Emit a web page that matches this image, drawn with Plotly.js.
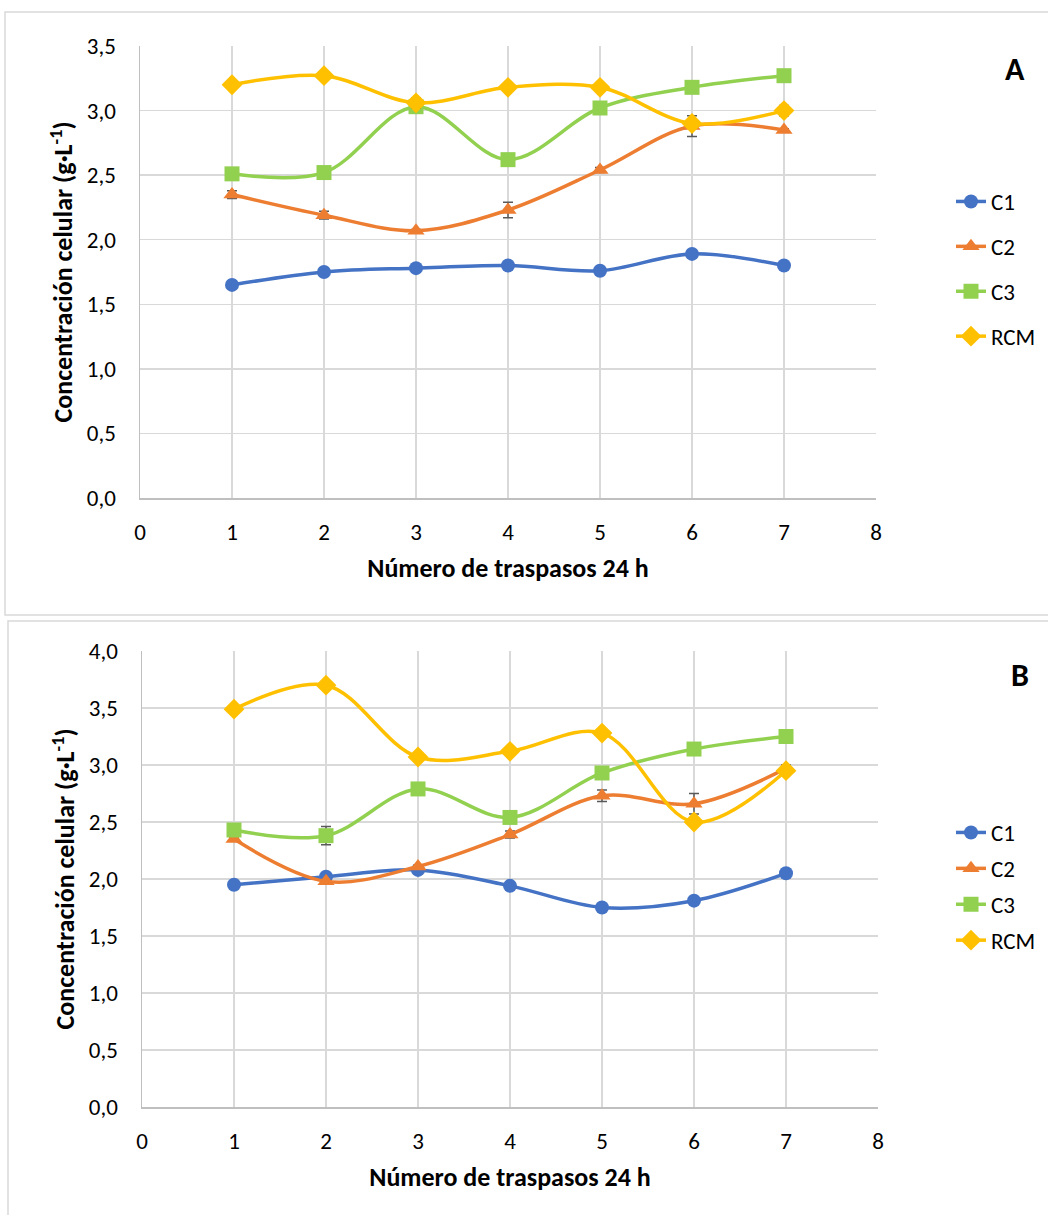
<!DOCTYPE html>
<html>
<head>
<meta charset="utf-8">
<script src="https://cdn.plot.ly/plotly-3.0.1.min.js"></script>
<style>html,body{margin:0;padding:0;background:#fff;}#chart{width:1048px;height:1215px;}</style>
</head>
<body>
<div id="chart"></div>
<script>
// Data
const passes = [1, 2, 3, 4, 5, 6, 7];
const seriesNames = ['C1', 'C2', 'C3', 'RCM'];

// Panel A
const A_C1 = [1.65, 1.75, 1.78, 1.80, 1.76, 1.89, 1.80];
const A_C2 = [2.35, 2.19, 2.07, 2.23, 2.54, 2.88, 2.85];
const A_C3 = [2.51, 2.52, 3.03, 2.62, 3.02, 3.18, 3.27];
const A_RCM = [3.20, 3.27, 3.06, 3.18, 3.18, 2.90, 3.00];
const A_C1_err = [0.01, 0.03, 0.01, 0.01, 0.01, 0.01, 0.01];
const A_C2_err = [0.03, 0.03, 0.01, 0.06, 0.02, 0.08, 0.01];
const A_C3_err = [0.01, 0.01, 0.03, 0.01, 0.01, 0.01, 0.01];
const A_RCM_err = [0.01, 0.02, 0.04, 0.01, 0.01, 0.01, 0.04];

// Panel B
const B_C1 = [1.95, 2.02, 2.08, 1.94, 1.75, 1.81, 2.05];
const B_C2 = [2.35, 1.98, 2.11, 2.39, 2.73, 2.66, 2.97];
const B_C3 = [2.43, 2.38, 2.79, 2.54, 2.93, 3.14, 3.25];
const B_RCM = [3.49, 3.70, 3.07, 3.12, 3.28, 2.50, 2.95];
const B_C1_err = [0.01, 0.01, 0.02, 0.01, 0.01, 0.01, 0.01];
const B_C2_err = [0.01, 0.01, 0.01, 0.03, 0.05, 0.09, 0.03];
const B_C3_err = [0.01, 0.08, 0.05, 0.01, 0.01, 0.01, 0.01];
const B_RCM_err = [0.03, 0.02, 0.02, 0.02, 0.01, 0.03, 0.01];

const xTickVals = [0, 1, 2, 3, 4, 5, 6, 7, 8];
const yTickValsA = [0, 0.5, 1, 1.5, 2, 2.5, 3, 3.5];
const yTickValsB = [0, 0.5, 1, 1.5, 2, 2.5, 3, 3.5, 4];

const xTitle = '<b>Número de traspasos 24 h</b>';
const yTitle = '<b>Concentración celular (g·L<sup>-1</sup>)</b>';

// Styles
const colors = ['#4472C4', '#ED7D31', '#92D050', '#FFC000'];
const symbols = ['circle', 'triangle-up', 'square', 'diamond'];
const msizes = [14, 15, 15, 16];
const FONT = 'Carlito, Calibri, Lato, "Open Sans", sans-serif';

function mk(vals, errs, i, xa, ya, leg) {
  return {
    x: passes, y: vals, type: 'scatter', mode: 'lines+markers',
    name: seriesNames[i], legend: leg, legendgroup: leg + seriesNames[i],
    xaxis: xa, yaxis: ya,
    line: {color: colors[i], width: 3.5, shape: 'spline', smoothing: 1},
    marker: {color: colors[i], symbol: symbols[i], size: msizes[i]},
    error_y: {type: 'data', array: errs, visible: true, color: '#595959', thickness: 1.5, width: 5}
  };
}

const data = [
  mk(A_C1, A_C1_err, 0, 'x', 'y', 'legend'),
  mk(A_C2, A_C2_err, 1, 'x', 'y', 'legend'),
  mk(A_C3, A_C3_err, 2, 'x', 'y', 'legend'),
  mk(A_RCM, A_RCM_err, 3, 'x', 'y', 'legend'),
  mk(B_C1, B_C1_err, 0, 'x2', 'y2', 'legend2'),
  mk(B_C2, B_C2_err, 1, 'x2', 'y2', 'legend2'),
  mk(B_C3, B_C3_err, 2, 'x2', 'y2', 'legend2'),
  mk(B_RCM, B_RCM_err, 3, 'x2', 'y2', 'legend2')
];

const W = 1048, H = 1215;
const px = v => v / W;
const py = v => 1 - v / H;

function xaxisDef(dom, anchor) {
  return {
    domain: dom, anchor: anchor, range: [0, 8], tickvals: xTickVals, ticktext: xTickVals.map(String),
    showgrid: true, gridcolor: '#d9d9d9', gridwidth: 1.3,
    showline: true, linecolor: '#bfbfbf', linewidth: 1.5, zeroline: false,
    ticks: 'outside', ticklen: 13, tickcolor: 'rgba(0,0,0,0)',
    tickfont: {family: FONT, size: 23, color: '#000'},
    title: {text: xTitle, font: {family: FONT, size: 26, color: '#000'}, standoff: 13},
    automargin: false, fixedrange: true
  };
}
function yaxisDef(dom, anchor, rng, tv) {
  return {
    domain: dom, anchor: anchor, range: rng, tickvals: tv, ticktext: tv.map(v => v.toFixed(1).replace('.', ',')),
    showgrid: true, gridcolor: '#d9d9d9', gridwidth: 1.3,
    showline: true, linecolor: '#bfbfbf', linewidth: 1.5, zeroline: false,
    ticks: 'outside', ticklen: 18, tickcolor: 'rgba(0,0,0,0)',
    tickfont: {family: FONT, size: 23, color: '#000'},
    title: {text: yTitle, font: {family: FONT, size: 26, color: '#000'}, standoff: 6},
    automargin: false, fixedrange: true
  };
}

const layout = {
  width: W, height: H,
  margin: {l: 0, r: 0, t: 0, b: 0},
  paper_bgcolor: '#fff', plot_bgcolor: '#fff',
  font: {family: FONT, color: '#000'},
  xaxis: xaxisDef([px(140), px(876)], 'y'),
  yaxis: yaxisDef([py(498), py(46)], 'x', [0, 3.5], yTickValsA),
  xaxis2: xaxisDef([px(142), px(878)], 'y2'),
  yaxis2: yaxisDef([py(1107), py(651)], 'x2', [0, 4], yTickValsB),
  legend: {
    x: px(951), y: py(180), xanchor: 'left', yanchor: 'top',
    traceorder: 'grouped', tracegroupgap: 12,
    font: {family: FONT, size: 23, color: '#000'}, bgcolor: 'rgba(0,0,0,0)'
  },
  legend2: {
    x: px(951), y: py(811), xanchor: 'left', yanchor: 'top',
    traceorder: 'grouped', tracegroupgap: 3,
    font: {family: FONT, size: 23, color: '#000'}, bgcolor: 'rgba(0,0,0,0)'
  },
  annotations: [
    {text: '<b>A</b>', xref: 'paper', yref: 'paper', x: px(1015), y: py(70), showarrow: false,
     font: {family: FONT, size: 32, color: '#000'}, xanchor: 'center', yanchor: 'middle'},
    {text: '<b>B</b>', xref: 'paper', yref: 'paper', x: px(1020), y: py(675), showarrow: false,
     font: {family: FONT, size: 32, color: '#000'}, xanchor: 'center', yanchor: 'middle'}
  ],
  shapes: [
    {type: 'rect', xref: 'paper', yref: 'paper', x0: px(5), x1: 1.02, y0: py(615), y1: py(12),
     line: {color: '#d9d9d9', width: 1.5}, fillcolor: 'rgba(0,0,0,0)', layer: 'below'},
    {type: 'rect', xref: 'paper', yref: 'paper', x0: px(8), x1: 1.02, y0: -0.02, y1: py(621),
     line: {color: '#d9d9d9', width: 1.5}, fillcolor: 'rgba(0,0,0,0)', layer: 'below'}
  ],
  showlegend: true
};

Plotly.newPlot('chart', data, layout, {displayModeBar: false, staticPlot: true});
</script>
</body>
</html>
